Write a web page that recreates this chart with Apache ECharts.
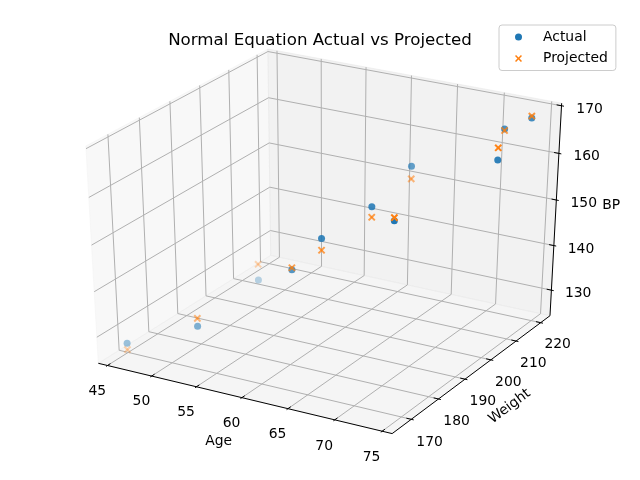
<!DOCTYPE html>
<html>
<head>
<meta charset="utf-8">
<script src="https://cdn.jsdelivr.net/npm/echarts@6/dist/echarts.min.js"></script>
<style>
html, body { margin: 0; padding: 0; background: #fff; }
#chart { width: 640px; height: 480px; }
</style>
</head>
<body>
<div id="chart"></div>
<script>
// data: age, weight, blood pressure (actual and fitted by the normal equation)
var age = [52, 59, 67, 73, 64, 74, 54, 61, 65, 46, 72];
var weight = [173, 184, 194, 211, 196, 220, 188, 188, 207, 167, 217];
var bpActual = [132, 143, 153, 162, 154, 168, 137, 149, 159, 128, 166];
var bpProjected = [133.72, 143.43, 153.67, 164.53, 151.76, 168.41, 140.46, 146.49, 156.30, 126.54, 165.68];

var ageTicks = [45, 50, 55, 60, 65, 70, 75];
var weightTicks = [170, 180, 190, 200, 210, 220];
var bpTicks = [130, 140, 150, 160, 170];

// axis limits of the 3d box
var ageRange = [44.6, 75.4];
var weightRange = [164.35, 222.65];
var bpRange = [125.1, 169.6];

var FONT = 'DejaVu Sans';
var BLUE = '#1f77b4', ORANGE = '#ff7f0e';

// camera like matplotlib's default 3d view
var elev = 30 * Math.PI / 180, azim = -60 * Math.PI / 180, dist = 10;
var u = [-Math.sin(azim), Math.cos(azim), 0];
var v = [-Math.sin(elev) * Math.cos(azim), -Math.sin(elev) * Math.sin(azim), Math.cos(elev)];
var w = [Math.cos(elev) * Math.cos(azim), Math.cos(elev) * Math.sin(azim), Math.sin(elev)];
var H = 0.5 + 1 / 48;   // panes are a bit bigger than the limits

function norm(val, r) { return (val - r[0]) / (r[1] - r[0]) - 0.5; }

function projQ(q) {
    var den = dist - (w[0] * q[0] + w[1] * q[1] + w[2] * q[2]);
    return [(u[0] * q[0] + u[1] * q[1]) / den,
            (v[0] * q[0] + v[1] * q[1] + v[2] * q[2]) / den,
            -dist / den];
}

function renderFrame(params, api) {
    var children = [];
    function pt(q) { var s = projQ(q); return api.coord([s[0], s[1]]); }
    function poly(qs, fill) {
        children.push({type: 'polygon', shape: {points: qs.map(pt)},
            style: {fill: fill, stroke: fill, lineWidth: 1}});
    }
    function line(q1, q2, color, width) {
        var a = pt(q1), b = pt(q2);
        children.push({type: 'line', shape: {x1: a[0], y1: a[1], x2: b[0], y2: b[1]},
            style: {stroke: color, lineWidth: width}});
    }
    function text(q, str, size, rot) {
        var p = pt(q);
        children.push({type: 'text', x: p[0], y: p[1], rotation: rot || 0,
            style: {text: str, fontSize: size, fontFamily: FONT, fill: '#000',
                align: 'center', verticalAlign: 'middle'}});
    }

    // panes
    poly([[-H, -H, -H], [-H, H, -H], [-H, H, H], [-H, -H, H]], 'rgba(242,242,242,0.5)');
    poly([[-H, H, -H], [H, H, -H], [H, H, H], [-H, H, H]], 'rgba(230,230,230,0.5)');
    poly([[-H, -H, -H], [H, -H, -H], [H, H, -H], [-H, H, -H]], 'rgba(236,236,236,0.5)');

    var grid = '#b0b0b0';
    ageTicks.forEach(function (t) {
        var q = norm(t, ageRange);
        line([q, -H, -H], [q, H, -H], grid, 1);
        line([q, H, -H], [q, H, H], grid, 1);
    });
    weightTicks.forEach(function (t) {
        var q = norm(t, weightRange);
        line([H, q, -H], [-H, q, -H], grid, 1);
        line([-H, q, -H], [-H, q, H], grid, 1);
    });
    bpTicks.forEach(function (t) {
        var q = norm(t, bpRange);
        line([-H, -H, q], [-H, H, q], grid, 1);
        line([-H, H, q], [H, H, q], grid, 1);
    });

    // axis lines
    line([-H, -H, -H], [H, -H, -H], '#000', 1);
    line([H, -H, -H], [H, H, -H], '#000', 1);
    line([H, H, -H], [H, H, H], '#000', 1);

    var tout = 0.1 / 12, tin = 0.2 / 12;
    ageTicks.forEach(function (t) {
        var q = norm(t, ageRange);
        line([q, -H - tout, -H], [q, -H + tin, -H], '#000', 1);
        text([q, -H - 0.063, -H - 0.093], String(t), 13.9);
    });
    weightTicks.forEach(function (t) {
        var q = norm(t, weightRange);
        line([H + tout, q, -H], [H - tin, q, -H], '#000', 1);
        text([H + 0.064, q, -H - 0.092], String(t), 13.9);
    });
    bpTicks.forEach(function (t) {
        var q = norm(t, bpRange);
        line([H + tout, H, q], [H - tin, H, q], '#000', 1);
        text([H + 0.087, H + 0.016, q], String(t), 13.9);
    });

    // axis titles
    var a = pt([H, -H, -H]), b = pt([H, H, -H]);
    var rot = Math.atan2(a[1] - b[1], b[0] - a[0]);
    text([0, -H - 0.139, -H - 0.136], 'Age', 13.9);
    text([H + 0.127, 0, -H - 0.130], 'Weight', 13.9, rot);
    text([H + 0.124, H + 0.1415, 0], 'BP', 13.9);

    return {type: 'group', children: children};
}

function makePoints(bpArr, marker) {
    var depth = age.map(function (a, i) {
        return projQ([norm(a, ageRange), norm(weight[i], weightRange), norm(bpArr[i], bpRange)])[2];
    });
    var dmin = Math.min.apply(null, depth), dmax = Math.max.apply(null, depth);
    return function (params, api) {
        var q = [norm(api.value(0), ageRange), norm(api.value(1), weightRange), norm(api.value(2), bpRange)];
        var s = projQ(q);
        var c = api.coord([s[0], s[1]]);
        var alpha = 1 - 0.7 * (s[2] - dmin) / (dmax - dmin);
        if (marker === 'o') {
            return {type: 'circle', shape: {cx: c[0], cy: c[1], r: 3.5},
                style: {fill: BLUE, opacity: alpha}};
        }
        var d = 3.1;
        return {type: 'group', children: [
            {type: 'line', shape: {x1: c[0] - d, y1: c[1] - d, x2: c[0] + d, y2: c[1] + d},
                style: {stroke: ORANGE, lineWidth: 2, opacity: alpha}},
            {type: 'line', shape: {x1: c[0] - d, y1: c[1] + d, x2: c[0] + d, y2: c[1] - d},
                style: {stroke: ORANGE, lineWidth: 2, opacity: alpha}}
        ]};
    };
}

var actualData = age.map(function (a, i) { return [a, weight[i], bpActual[i]]; });
var projectedData = age.map(function (a, i) { return [a, weight[i], bpProjected[i]]; });

var xIcon = 'path://M0,1.5L1.5,0L5,3.5L8.5,0L10,1.5L6.5,5L10,8.5L8.5,10L5,6.5L1.5,10L0,8.5L3.5,5Z';

var myChart = echarts.init(document.getElementById('chart'));
myChart.setOption({
    animation: false,
    backgroundColor: '#fff',
    title: {
        text: 'Normal Equation Actual vs Projected',
        left: 'center', top: 32, padding: 0,
        textStyle: {fontSize: 16.67, fontWeight: 'normal', fontFamily: FONT, color: '#000'}
    },
    legend: {
        orient: 'vertical', left: 499, top: 25,
        padding: [5, 8, 5, 16],
        itemWidth: 7, itemHeight: 7, itemGap: 7.5,
        selectedMode: false,
        borderColor: '#cccccc', borderWidth: 1, borderRadius: 3,
        backgroundColor: 'rgba(255,255,255,0.8)',
        textStyle: {fontSize: 13.9, fontFamily: FONT, color: '#000', lineHeight: 14, padding: [0, 0, 0, 16]},
        data: [
            {name: 'Actual', icon: 'circle'},
            {name: 'Projected', icon: xIcon}
        ]
    },
    grid: {left: 0, right: 0, top: 0, bottom: 0},
    xAxis: {type: 'value', min: -0.10068, max: 0.09589, show: false},
    yAxis: {type: 'value', min: -0.10315, max: 0.09853, show: false},
    series: [
        {type: 'custom', name: 'frame', silent: true, renderItem: renderFrame, data: [[0, 0]], z: 1},
        {type: 'custom', name: 'Actual', renderItem: makePoints(bpActual, 'o'), data: actualData,
            itemStyle: {color: BLUE}, z: 2},
        {type: 'custom', name: 'Projected', renderItem: makePoints(bpProjected, 'x'), data: projectedData,
            itemStyle: {color: ORANGE}, z: 3}
    ]
});
</script>
</body>
</html>
